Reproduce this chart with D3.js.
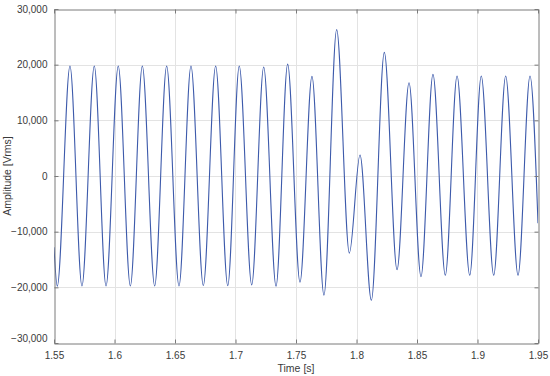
<!DOCTYPE html>
<html>
<head>
<meta charset="utf-8">
<style>
body { margin: 0; background: #fff; }
text { font-family: Arial, "Liberation Sans", sans-serif; }
.grid line { stroke: #e3e3e3; stroke-width: 1; }
.axis-title { font-size: 10.5px; fill: #3a3a3a; }
.signal { fill: none; stroke: #3d5aab; stroke-width: 1.1; }
</style>
</head>
<body>
<script src="https://d3js.org/d3.v7.min.js"></script>
<script>
var width = 550,
    height = 376;
var margin = {top: 9, right: 12, bottom: 33, left: 54};

// turning points of the waveform (time in s, amplitude in Vrms)
var time = [1.5500, 1.5527, 1.5632, 1.5731, 1.5833, 1.5930, 1.6031, 1.6131, 1.6230, 1.6332,
            1.6431, 1.6533, 1.6632, 1.6734, 1.6836, 1.6936, 1.7031, 1.7134, 1.7233, 1.7335,
            1.7431, 1.7533, 1.7632, 1.7731, 1.7836, 1.7941, 1.8029, 1.8123, 1.8230, 1.8335,
            1.8434, 1.8533, 1.8632, 1.8734, 1.8831, 1.8936, 1.9031, 1.9134, 1.9233, 1.9335,
            1.9434, 1.9500];
var amplitude = [-12800, -19790, 19750, -19750, 19750, -19750, 19750, -19750, 19750, -19750,
                 19750, -19750, 19750, -19680, 19750, -19700, 19750, -19550, 19570, -19790,
                 20100, -19070, 17900, -21400, 26300, -13850, 3760, -22330, 22200, -16850,
                 16760, -18070, 18250, -17820, 17960, -17820, 17960, -17820, 17960, -17820,
                 17960, -8500];

var xTicks = [1.55, 1.6, 1.65, 1.7, 1.75, 1.8, 1.85, 1.9, 1.95];
var yTicks = [-30000, -20000, -10000, 0, 10000, 20000, 30000];

var points = time.map(function(t, i) { return {t: t, v: amplitude[i]}; });

var svg = d3.select("body").append("svg")
    .attr("width", width)
    .attr("height", height);

var x = d3.scaleLinear()
    .domain([1.55, 1.95])
    .range([margin.left, width - margin.right]);

var y = d3.scaleLinear()
    .domain([-30000, 30000])
    .range([height - margin.bottom, margin.top]);

// grid
var grid = svg.append("g").attr("class", "grid");
grid.selectAll(".gx")
    .data(xTicks.slice(1, -1))
    .enter().append("line")
    .attr("x1", function(d) { return Math.round(x(d)) + 0.5; })
    .attr("x2", function(d) { return Math.round(x(d)) + 0.5; })
    .attr("y1", margin.top)
    .attr("y2", height - margin.bottom);
grid.selectAll(".gy")
    .data(yTicks.slice(1, -1))
    .enter().append("line")
    .attr("y1", function(d) { return Math.round(y(d)) + 0.5; })
    .attr("y2", function(d) { return Math.round(y(d)) + 0.5; })
    .attr("x1", margin.left)
    .attr("x2", width - margin.right);

svg.append("clipPath").attr("id", "clip")
  .append("rect")
    .attr("x", margin.left)
    .attr("y", margin.top)
    .attr("width", width - margin.left - margin.right)
    .attr("height", height - margin.top - margin.bottom);

var line = d3.line()
    .x(function(d) { return x(d.t); })
    .y(function(d) { return y(d.v); })
    .curve(d3.curveMonotoneX);

svg.append("path")
    .datum(points)
    .attr("class", "signal")
    .attr("clip-path", "url(#clip)")
    .attr("d", line);

// box axes, MATLAB style ticks pointing inward
var fmtY = d3.format(",");
var fmtX = d3.format("~g");
var axisColor = "#7a7a7a";

var axBottom = svg.append("g")
    .attr("transform", "translate(0," + (height - margin.bottom + 0.5) + ")")
    .call(d3.axisBottom(x).tickValues(xTicks).tickFormat(fmtX).tickSizeInner(-4).tickSizeOuter(0).tickPadding(8));
var axTop = svg.append("g")
    .attr("transform", "translate(0," + (margin.top + 0.5) + ")")
    .call(d3.axisTop(x).tickValues(xTicks).tickFormat("").tickSizeInner(-4).tickSizeOuter(0));
var axLeft = svg.append("g")
    .attr("transform", "translate(" + (margin.left + 0.5) + ",0)")
    .call(d3.axisLeft(y).tickValues(yTicks).tickFormat(fmtY).tickSizeInner(-4).tickSizeOuter(0).tickPadding(7));
var axRight = svg.append("g")
    .attr("transform", "translate(" + (width - margin.right + 0.5) + ",0)")
    .call(d3.axisRight(y).tickValues(yTicks).tickFormat("").tickSizeInner(-4).tickSizeOuter(0));

[axBottom, axTop, axLeft, axRight].forEach(function(g) {
  g.select(".domain").attr("stroke", axisColor);
  g.selectAll(".tick line").attr("stroke", axisColor);
  g.selectAll(".tick text")
    .attr("fill", "#3a3a3a")
    .style("font-size", "10px")
    .style("font-family", "Arial, 'Liberation Sans', sans-serif");
});

// the lowest label sits a little above the frame corner in the reference
axLeft.selectAll(".tick")
    .filter(function(d) { return d === -30000; })
    .select("text")
    .attr("dy", "-0.2em");

svg.append("text")
    .attr("class", "axis-title")
    .attr("x", (margin.left + width - margin.right) / 2)
    .attr("y", height - 4)
    .attr("text-anchor", "middle")
    .text("Time [s]");

svg.append("text")
    .attr("class", "axis-title")
    .attr("transform", "translate(11," + ((margin.top + height - margin.bottom) / 2) + ") rotate(-90)")
    .attr("text-anchor", "middle")
    .text("Amplitude [Vrms]");
</script>
</body>
</html>
